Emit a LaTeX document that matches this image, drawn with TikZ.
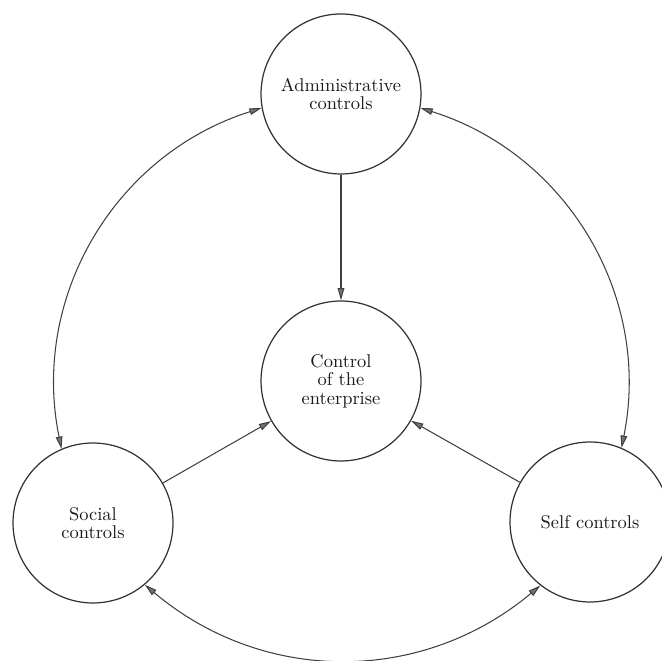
\documentclass[tikz,border=0pt]{standalone}
\usetikzlibrary{arrows.meta}

\begin{document}
\begin{tikzpicture}[x=0.02cm,y=0.02cm,
  ctl/.style={circle, draw=black!80, line width=0.7pt, minimum size=3.2cm, inner sep=0pt,
    align=center, font=\fontsize{10.5}{10.5}\selectfont, text=black!90},
  tip/.tip={Triangle[length=7pt,width=3.8pt,fill=black!55]},
  link/.style={draw=black!75, line width=0.6pt, -tip},
  both/.style={draw=black!75, line width=0.6pt, tip-tip}]

\useasboundingbox (0,0) rectangle (661,661);

\node[ctl] (adm) at (341,567) {Administrative\\controls};
\node[ctl] (ctr) at (341,280) {Control\\of the\\enterprise};
\node[ctl] (soc) at (93,138) {Social\\controls};
\node[ctl] (self) at (590,139) {Self controls};

\draw[link] (adm) -- (ctr);
\draw[link] (soc) -- (ctr);
\draw[link] (self) -- (ctr);

\draw[both] (adm.190) to[bend right=42] (soc.113);
\draw[both] (adm.350) to[bend left=42] (self.67);
\draw[both] (soc.310) to[bend right=40] (self.232);

\end{tikzpicture}
\end{document}
